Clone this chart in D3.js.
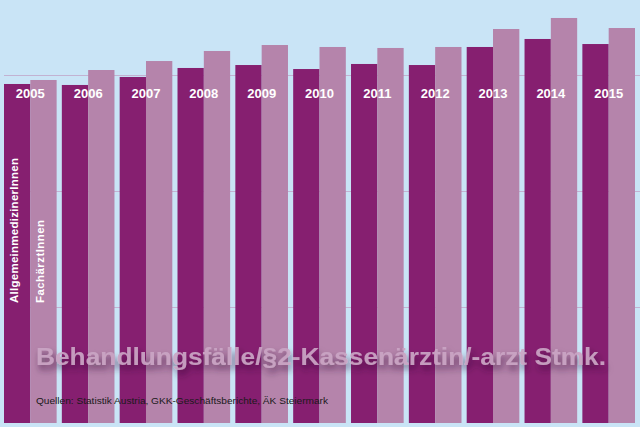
<!DOCTYPE html>
<html>
<head>
<meta charset="utf-8">
<script src="https://cdn.jsdelivr.net/npm/d3@7/dist/d3.min.js"></script>
<style>
  html, body { margin: 0; padding: 0; background: #c9e4f6; }
  svg { display: block; }
</style>
</head>
<body>
<svg id="chart" width="640" height="427"></svg>
<script>
// ---- data ----
const years = ["2005","2006","2007","2008","2009","2010","2011","2012","2013","2014","2015"];
const allgemein = [5845, 5828, 5966, 6121, 6172, 6103, 6190, 6172, 6483, 6621, 6534];
const fachaerzte = [5914, 6086, 6241, 6414, 6517, 6483, 6466, 6483, 6793, 6983, 6810];
const seriesNames = ["AllgemeinmedizinerInnen", "FachärztInnen"];
const gridValues = [2000, 4000, 6000];
const title = "Behandlungsfälle/§2-Kassenärztin/-arzt Stmk.";
const source = "Quellen: Statistik Austria, GKK-Geschäftsberichte, ÄK Steiermark";

const W = 640, H = 427;
const svg = d3.select("#chart");
const font = "'Liberation Sans', Arial, Helvetica, sans-serif";

svg.append("rect").attr("width", W).attr("height", H).attr("fill", "#c9e4f6");

const defs = svg.append("defs");
const f = defs.append("filter").attr("id", "shadow")
  .attr("x", "-10%").attr("y", "-50%").attr("width", "120%").attr("height", "220%");
f.append("feDropShadow").attr("dx", 2).attr("dy", 5).attr("stdDeviation", 3)
  .attr("flood-color", "#2a1030").attr("flood-opacity", 0.6);

const x = d3.scaleBand().domain(years).range([4, 635]).paddingInner(0.09).paddingOuter(0);
const xs = d3.scaleBand().domain(seriesNames).range([0, x.bandwidth()]).padding(0);
const y = d3.scaleLinear().domain([0, 6000]).range([423, 75]);

// gridlines
const grid = svg.append("g").attr("transform", "translate(4,0)")
  .call(d3.axisLeft(y).tickValues(gridValues).tickSize(-(W - 4)).tickFormat(""));
grid.select(".domain").remove();
grid.selectAll(".tick line").attr("stroke", "#c2b2d2").attr("stroke-width", 1);

const colors = { "AllgemeinmedizinerInnen": "#861f70", "FachärztInnen": "#b584ab" };
const rows = years.map((yr, i) => ({ year: yr, vals: [
  { key: seriesNames[0], v: allgemein[i] },
  { key: seriesNames[1], v: fachaerzte[i] }
]}));

const g = svg.append("g").selectAll("g").data(rows).join("g")
  .attr("transform", d => `translate(${x(d.year)},0)`);
g.selectAll("rect").data(d => d.vals).join("rect")
  .attr("x", d => xs(d.key))
  .attr("width", xs.bandwidth())
  .attr("y", d => y(d.v))
  .attr("height", d => y(0) - y(d.v))
  .attr("fill", d => colors[d.key]);

// year labels
svg.append("g").selectAll("text").data(years).join("text")
  .attr("x", d => x(d) + x.bandwidth() / 2)
  .attr("y", 98)
  .attr("text-anchor", "middle")
  .attr("fill", "#ffffff")
  .attr("font-family", font)
  .attr("font-weight", "bold")
  .attr("font-size", "13px")
  .text(d => d);

// series labels (vertical)
const firstX = x(years[0]);
const labelLens = [145, 83];
svg.append("g").selectAll("text").data(seriesNames).join("text")
  .attr("transform", (d, i) => `translate(${firstX + xs(d) + 13.5},303) rotate(-90)`)
  .attr("fill", "#ffffff")
  .attr("font-family", font)
  .attr("font-weight", "bold")
  .attr("font-size", "11.5px")
  .attr("textLength", (d, i) => labelLens[i])
  .attr("lengthAdjust", "spacing")
  .text(d => d);

// title
svg.append("text")
  .attr("x", 36).attr("y", 365)
  .attr("font-family", font)
  .attr("font-weight", "bold")
  .attr("font-size", "24px")
  .attr("fill", "#caa5c4")
  .attr("fill-opacity", 0.92)
  .attr("filter", "url(#shadow)")
  .attr("textLength", 570)
  .attr("lengthAdjust", "spacingAndGlyphs")
  .text(title);

// source
svg.append("text")
  .attr("x", 36).attr("y", 404)
  .attr("font-family", font)
  .attr("font-size", "9px")
  .attr("fill", "#1a1a1a")
  .attr("textLength", 292)
  .attr("lengthAdjust", "spacingAndGlyphs")
  .text(source);
</script>
</body>
</html>
